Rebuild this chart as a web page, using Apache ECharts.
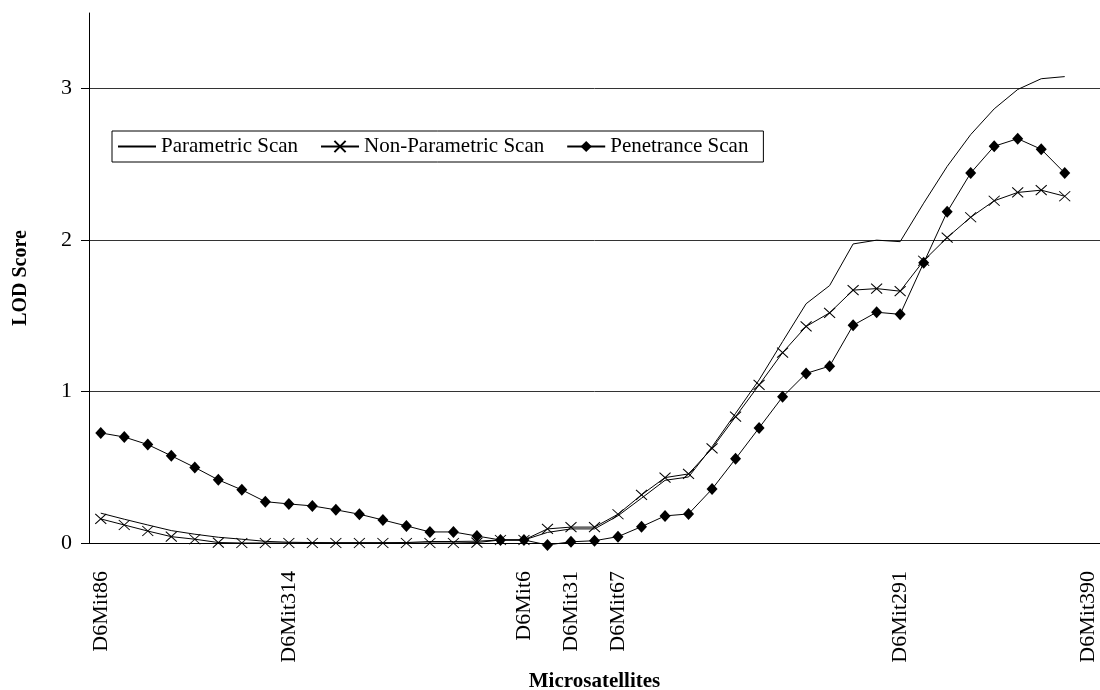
<!DOCTYPE html>
<html>
<head>
<meta charset="utf-8">
<script src="https://cdn.jsdelivr.net/npm/echarts@6/dist/echarts.min.js"></script>
<style>
  html, body { margin: 0; padding: 0; background: #fff; }
  #chart { width: 1100px; height: 690px; }
</style>
</head>
<body>
<div id="chart"></div>
<script>
var categories = ['D6Mit86', '', '', '', '', '', '', '', 'D6Mit314', '', '',
  '', '', '', '', '', '', '', 'D6Mit6', '', 'D6Mit31', '', 'D6Mit67', '', '',
  '', '', '', '', '', '', '', '', '', 'D6Mit291', '', '', '', '', '', '', '', 'D6Mit390'];

var parametric = [0.197, 0.157, 0.119, 0.082, 0.058, 0.038, 0.025, 0.011, 0.005, 0.003,
  0.002, 0.002, 0.002, 0.003, 0.01, 0.01, 0.012, 0.02, 0.02, 0.07,
  0.093, 0.093, 0.18, 0.296, 0.414, 0.436, 0.635, 0.856, 1.077, 1.33,
  1.58, 1.70, 1.975, 2.0, 1.99, 2.244, 2.487, 2.697, 2.867, 2.995, 3.066, 3.08];

var nonParametric = [0.159, 0.119, 0.079, 0.042, 0.025, 0.003, 0, 0, 0, 0,
  0, 0, 0, 0, 0, 0, 0.003, 0.02, 0.02, 0.093,
  0.105, 0.105, 0.19, 0.318, 0.432, 0.456, 0.625, 0.834, 1.044, 1.257,
  1.43, 1.52, 1.67, 1.68, 1.663, 1.864, 2.017, 2.151, 2.26, 2.315, 2.33, 2.29];

var penetrance = [0.727, 0.70, 0.65, 0.576, 0.499, 0.417, 0.351, 0.273, 0.258, 0.245,
  0.219, 0.19, 0.152, 0.113, 0.073, 0.073, 0.046, 0.02, 0.02, -0.013,
  0.008, 0.015, 0.042, 0.108, 0.179, 0.192, 0.356, 0.556, 0.76, 0.965,
  1.12, 1.168, 1.438, 1.524, 1.51, 1.85, 2.187, 2.443, 2.62, 2.67, 2.60, 2.443];

var yTicks = [0, 1, 2, 3];

var FONT = '"Liberation Serif", "Times New Roman", serif';

var chart = echarts.init(document.getElementById('chart'), null, { renderer: 'canvas' });
chart.setOption({
  backgroundColor: '#fff',
  animation: false,
  textStyle: { fontFamily: FONT, color: '#000' },
  grid: { left: 89, right: 0, top: 13, bottom: 147, containLabel: false, outerBoundsMode: 'none' },
  legend: {
    left: 112, top: 131,
    orient: 'horizontal',
    itemWidth: 38, itemHeight: 14, itemGap: 22,
    padding: [5, 15, 5, 5],
    borderColor: '#000', borderWidth: 1,
    textStyle: { fontFamily: FONT, fontSize: 21, color: '#000' },
    data: [
      { name: 'Parametric Scan', itemStyle: { opacity: 0 } },
      { name: 'Non-Parametric Scan' },
      { name: 'Penetrance Scan' }
    ]
  },
  xAxis: {
    type: 'category',
    data: categories,
    boundaryGap: true,
    name: 'Microsatellites',
    nameLocation: 'middle',
    nameGap: 128,
    nameTextStyle: { fontFamily: FONT, fontSize: 21, fontWeight: 'bold', color: '#000' },
    axisLine: { show: true, lineStyle: { color: '#000', width: 1 } },
    axisTick: { show: false },
    axisLabel: { interval: 0, rotate: 90, margin: 28, fontFamily: FONT, fontSize: 22, color: '#000' },
    splitLine: { show: false }
  },
  yAxis: {
    type: 'value',
    min: 0, max: 3.5, interval: 1,
    name: 'LOD Score',
    nameLocation: 'middle',
    nameGap: 58,
    nameTextStyle: { fontFamily: FONT, fontSize: 20, fontWeight: 'bold', color: '#000' },
    axisLine: { show: true, lineStyle: { color: '#000', width: 1 } },
    axisTick: { show: true, length: 8, customValues: yTicks, lineStyle: { color: '#000' } },
    axisLabel: {
      customValues: yTicks,
      margin: 17, fontFamily: FONT, fontSize: 22, color: '#000',
      formatter: function (v) { return (v % 1 === 0) ? String(v) : ''; }
    },
    splitLine: { show: true, lineStyle: { color: ['#333', '#333', '#333', '#333', 'rgba(0,0,0,0)'], width: 1 } }
  },
  series: [
    {
      name: 'Parametric Scan',
      type: 'line',
      data: parametric,
      symbol: 'none',
      showSymbol: false,
      clip: false,
      lineStyle: { color: '#000', width: 1 },
      itemStyle: { color: '#000' },
      z: 3
    },
    {
      name: 'Non-Parametric Scan',
      type: 'line',
      data: nonParametric,
      symbol: 'path://M0,0L10,10M10,0L0,10',
      symbolSize: [11, 10],
      showSymbol: true,
      clip: false,
      lineStyle: { color: '#000', width: 1 },
      itemStyle: { color: 'rgba(0,0,0,0)', borderColor: '#000', borderWidth: 1 },
      z: 4
    },
    {
      name: 'Penetrance Scan',
      type: 'line',
      data: penetrance,
      symbol: 'diamond',
      symbolSize: [11, 12],
      showSymbol: true,
      clip: false,
      lineStyle: { color: '#000', width: 1 },
      itemStyle: { color: '#000', borderWidth: 0 },
      z: 5
    }
  ]
});
</script>
</body>
</html>
